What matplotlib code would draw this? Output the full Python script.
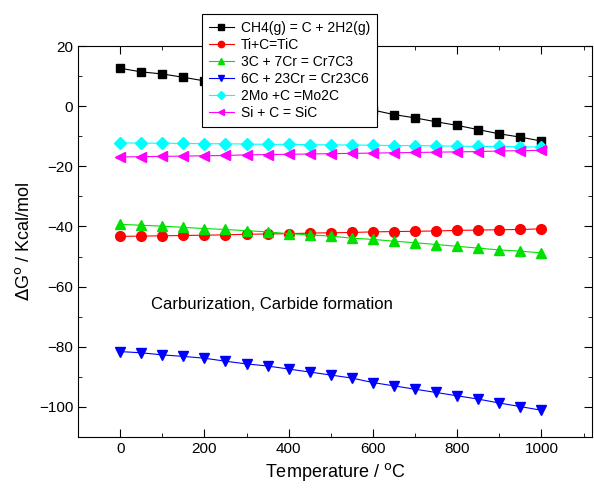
import matplotlib.pyplot as plt
import numpy as np
from matplotlib.ticker import MultipleLocator

plt.rcParams['font.family'] = ['Liberation Sans', 'DejaVu Sans']

temp = np.arange(0, 1001, 50)

ch4 = [12.6, 11.4, 10.7, 9.6, 8.4, 7.2, 6.0, 4.8, 3.6, 2.4, 1.2, 0.0,
       -1.3, -2.8, -3.9, -5.2, -6.4, -7.8, -9.2, -10.3, -11.6]
tic = [-43.3, -43.2, -43.1, -43.0, -42.9, -42.8, -42.6, -42.5, -42.4, -42.2, -42.1,
       -42.0, -41.8, -41.7, -41.6, -41.5, -41.3, -41.2, -41.1, -41.0, -40.8]
cr7c3 = [-39.3, -39.6, -39.9, -40.3, -40.7, -41.0, -41.4, -41.8, -42.4, -42.8, -43.2,
         -43.9, -44.3, -44.9, -45.4, -46.0, -46.6, -47.2, -47.8, -48.2, -48.8]
cr23c6 = [-81.6, -82.0, -82.7, -83.2, -83.8, -84.8, -85.7, -86.4, -87.4, -88.4, -89.4,
          -90.4, -91.9, -93.0, -94.1, -95.2, -96.3, -97.4, -98.7, -99.9, -101.1]
mo2c = [-12.2, -12.3, -12.3, -12.4, -12.5, -12.5, -12.6, -12.7, -12.7, -12.8, -12.9,
        -12.9, -13.0, -13.1, -13.1, -13.2, -13.3, -13.4, -13.4, -13.5, -13.6]
sic = [-16.9, -16.8, -16.7, -16.6, -16.5, -16.4, -16.2, -16.1, -16.0, -15.9, -15.8,
       -15.7, -15.6, -15.5, -15.4, -15.3, -15.2, -15.1, -14.9, -14.8, -14.7]

labels = ["CH4(g) = C + 2H2(g)", "Ti+C=TiC", "3C + 7Cr = Cr7C3",
          "6C + 23Cr = Cr23C6", "2Mo +C =Mo2C", "Si + C = SiC"]

fig = plt.figure(figsize=(5.94, 4.99), dpi=100)
ax = fig.add_axes([78 / 594, 62 / 499, 514 / 594, 391 / 499])

ax.plot(temp, ch4, "-s", color="black", lw=0.8, ms=6, label=labels[0])
ax.plot(temp, tic, "-o", color="red", lw=0.8, ms=7, label=labels[1])
ax.plot(temp, cr7c3, "-^", color="#00e000", lw=0.8, ms=7, label=labels[2])
ax.plot(temp, cr23c6, "-v", color="blue", lw=0.8, ms=7, label=labels[3])
ax.plot(temp, mo2c, "-D", color="cyan", lw=0.8, ms=6, label=labels[4])
ax.plot(temp, sic, "-<", color="magenta", lw=0.8, ms=7, label=labels[5])

ax.set_xlim(-100, 1120)
ax.set_ylim(-110, 20)
ax.xaxis.set_major_locator(MultipleLocator(200))
ax.xaxis.set_minor_locator(MultipleLocator(100))
ax.yaxis.set_major_locator(MultipleLocator(20))
ax.yaxis.set_minor_locator(MultipleLocator(10))
ax.tick_params(which="both", direction="in", top=True, right=True, labelsize=11)
ax.tick_params(which="major", length=6)
ax.tick_params(which="minor", length=3)

ax.set_xlabel("Temperature / $^{\\rm o}$C", fontsize=13)
ax.set_ylabel("$\\Delta$G$^{\\rm o}$ / Kcal/mol", fontsize=13)

ax.text(74, -66, "Carburization, Carbide formation", fontsize=12, va="center")

leg = ax.legend(loc="upper left", bbox_to_anchor=(195 / 594, 1 - 7 / 499),
                bbox_transform=fig.transFigure, fontsize=10, fancybox=False,
                framealpha=1, edgecolor="black", markerscale=0.65,
                handlelength=1.8, handletextpad=0.5, labelspacing=0.22,
                borderpad=0.5)
leg.get_frame().set_linewidth(0.8)

fig.savefig("out.png", dpi=100)
